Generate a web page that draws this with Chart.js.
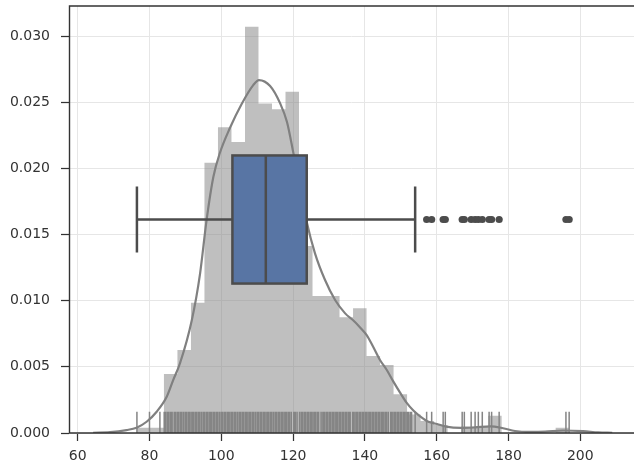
<!DOCTYPE html>
<html>
<head>
<meta charset="utf-8">
<script src="https://cdn.jsdelivr.net/npm/chart.js@4.4.1/dist/chart.umd.min.js"></script>
<style>
  html, body { margin: 0; padding: 0; background: #fff; }
  #wrap { width: 634px; height: 473px; }
</style>
</head>
<body>
<div id="wrap"><canvas id="myChart" width="634" height="473"></canvas></div>
<script>
// histogram: 32 equal bins, density values
const binStart = 76.5;
const binWidth = 3.7625;
const histDensity = [
  0.0004, 0.0004, 0.00446, 0.00627, 0.00985, 0.02043, 0.0231, 0.022,
  0.0307, 0.02491, 0.02446, 0.02579, 0.01413, 0.01035, 0.01035, 0.00874,
  0.00942, 0.00582, 0.00514, 0.00292, 0.0014, 0.0009, 0.0006, 0,
  0.0005, 0.0005, 0.0013, 0, 0, 0, 0, 0.0004
];

// kde curve
const kdeX = [
  64.3, 69.0, 73.6, 76.4, 79.2, 82.0, 84.8, 86.6, 88.5, 91.8, 94.1, 95.9,
  97.8, 99.6, 102.4, 105.6, 108.9, 110.5, 113.6, 116.4, 118.3, 120.1, 122.0,
  123.8, 126.1, 128.9, 131.7, 134.5, 136.8, 138.6, 140.5, 142.3, 144.2, 146.1,
  147.9, 149.8, 151.6, 153.5, 155.3, 157.7, 160.1, 162.6, 166.8, 170.7, 174.9,
  178.5, 181.8, 186.0, 190.2, 195.2, 200.8, 205.0, 208.9
];
const kdeY = [
  0.00002, 0.00006, 0.00022, 0.0004, 0.00085, 0.00161, 0.00274, 0.004, 0.00527, 0.00854, 0.01207, 0.01609,
  0.01937, 0.02116, 0.02305, 0.02483, 0.02629, 0.02667, 0.02622, 0.02491, 0.0235, 0.02113, 0.0185,
  0.01594, 0.01358, 0.01156, 0.01005, 0.00904, 0.0085, 0.008, 0.0074, 0.00652, 0.00552, 0.00476,
  0.0039, 0.00305, 0.0023, 0.0017, 0.00128, 0.00085, 0.00068, 0.00048, 0.00038, 0.00042, 0.0005,
  0.00036, 0.00015, 0.00008, 0.0001, 0.00019, 0.00014, 0.00005, 0.00002
];

// rug (observations)
const rugValues = [
  76.5, 80.0, 82.9,
  84.1, 84.5, 85.0, 85.4, 85.9, 86.3, 86.9, 87.2, 87.7, 88.1, 88.6, 89.0, 89.5, 90.0,
  90.4, 90.9, 91.3, 91.8, 92.2, 92.7, 93.1, 93.6, 94.0, 94.5, 95.0, 95.4, 95.9, 96.3,
  96.8, 97.2, 97.7, 98.1, 98.6, 99.0, 99.5, 100.0, 100.4, 100.9, 101.3, 101.8, 102.2,
  102.7, 103.1, 103.6, 104.0, 104.5, 105.0, 105.4, 105.9, 106.3, 106.8, 107.2, 107.7,
  108.1, 108.6, 109.0, 109.5, 110.0, 110.4, 110.9, 111.3, 111.8, 112.2, 112.7, 113.1,
  113.6, 114.0, 114.5, 115.0, 115.4, 115.9, 116.3, 116.8, 117.2, 117.7, 118.1, 118.6,
  119.0, 119.5, 120.2, 120.6, 121.1, 121.8, 122.3, 122.6, 123.1, 123.5, 124.0, 124.4,
  124.9, 125.3, 125.8, 126.2, 126.7, 127.1, 127.8, 128.3, 128.7, 129.2, 129.6, 130.1,
  130.5, 131.0, 131.4, 131.9, 132.3, 132.8, 133.2, 133.7, 134.1, 134.6, 135.0, 135.5,
  135.9, 136.6, 137.0, 137.5, 137.9, 138.4, 138.8, 139.3, 139.7, 140.2, 140.6, 141.1,
  141.5, 142.0, 142.4, 142.9, 143.3, 143.8, 144.2, 144.7, 145.1, 145.6, 146.0, 146.5,
  147.2, 147.6, 148.1, 148.5, 149.0, 149.4, 149.9, 150.3, 150.8, 151.2, 151.7, 152.1,
  152.6, 153.0, 154.0,
  157.2, 158.6, 161.8, 162.4, 167.1, 167.7, 169.6, 170.7, 171.6, 172.7, 174.6, 175.3,
  177.4, 196.0, 196.9
];

// box plot: whisker low, q1, median, q3, whisker high
const boxStats = [76.5, 103.1, 112.4, 123.8, 154.0];
const outliers = [157.2, 158.6, 161.8, 162.4, 167.1, 167.7, 169.6, 170.7, 171.6, 172.7, 174.6, 175.3, 177.4, 196.0, 196.9];

const xTicks = [60, 80, 100, 120, 140, 160, 180, 200];
const yTicks = [0, 0.005, 0.01, 0.015, 0.02, 0.025, 0.03];

const INK = '#333333';
const BOX_LINE = '#4c4c4c';

const histPoints = histDensity.map((d, i) => ({ x: binStart + i * binWidth, y: d }));
histPoints.push({ x: binStart + histDensity.length * binWidth, y: 0 });

// no extra room for edge labels, the plot area is fixed by hand
const noPad = s => { s.paddingTop = 0; s.paddingBottom = 0; s.paddingLeft = 0; s.paddingRight = 0; };

// rug lines go right after the histogram fill, below the kde
const rugPlugin = {
  id: 'rug',
  afterDatasetDraw(chart, args) {
    if (args.index !== 2) return;
    const { ctx, chartArea } = chart;
    const xs = chart.scales.x;
    const h = (chartArea.bottom - chartArea.top) * 0.05;
    ctx.save();
    ctx.strokeStyle = '#858585';
    ctx.lineWidth = 1.5;
    ctx.beginPath();
    rugValues.forEach(v => {
      const px = xs.getPixelForValue(v);
      ctx.moveTo(px, chartArea.bottom);
      ctx.lineTo(px, chartArea.bottom - h);
    });
    ctx.stroke();
    ctx.restore();
  }
};

const boxPlugin = {
  id: 'box',
  afterDatasetsDraw(chart) {
    const { ctx } = chart;
    const xs = chart.scales.x, yb = chart.scales.yBox;
    const [lo, q1, med, q3, hi] = boxStats.map(v => xs.getPixelForValue(v));
    const yc = yb.getPixelForValue(0);
    const bTop = yb.getPixelForValue(0.3), bBot = yb.getPixelForValue(-0.3);
    const cTop = yb.getPixelForValue(0.155), cBot = yb.getPixelForValue(-0.155);
    ctx.save();
    ctx.strokeStyle = BOX_LINE;
    ctx.lineWidth = 2.5;
    ctx.beginPath();
    ctx.moveTo(lo, yc); ctx.lineTo(q1, yc);
    ctx.moveTo(q3, yc); ctx.lineTo(hi, yc);
    ctx.moveTo(lo, cTop); ctx.lineTo(lo, cBot);
    ctx.moveTo(hi, cTop); ctx.lineTo(hi, cBot);
    ctx.stroke();
    ctx.fillStyle = '#5875a4';
    ctx.fillRect(q1, bTop, q3 - q1, bBot - bTop);
    ctx.strokeRect(q1, bTop, q3 - q1, bBot - bTop);
    ctx.beginPath();
    ctx.moveTo(med, bTop); ctx.lineTo(med, bBot);
    ctx.stroke();
    ctx.restore();
  }
};

const framePlugin = {
  id: 'frame',
  afterDraw(chart) {
    const { ctx, chartArea: a } = chart;
    ctx.save();
    ctx.strokeStyle = INK;
    ctx.lineWidth = 1.4;
    ctx.beginPath();
    ctx.moveTo(a.right, a.top); ctx.lineTo(a.left + 0.5, a.top);
    ctx.lineTo(a.left + 0.5, a.bottom); ctx.lineTo(a.right, a.bottom);
    ctx.stroke();
    ctx.restore();
  }
};

Chart.defaults.font.family = "'DejaVu Sans', sans-serif";
Chart.defaults.font.size = 14;
Chart.defaults.color = INK;

const ctx = document.getElementById('myChart').getContext('2d');
new Chart(ctx, {
  type: 'line',
  data: {
    datasets: [
      {
        type: 'scatter',
        data: outliers.map(v => ({ x: v, y: 0 })),
        yAxisID: 'yBox',
        backgroundColor: BOX_LINE,
        borderWidth: 0,
        pointRadius: 3.6,
        order: 0
      },
      {
        data: kdeX.map((x, i) => ({ x, y: kdeY[i] })),
        borderColor: '#808080',
        borderWidth: 2.2,
        pointRadius: 0,
        cubicInterpolationMode: 'monotone',
        fill: false,
        order: 1
      },
      {
        data: histPoints,
        stepped: true,
        borderWidth: 0,
        borderColor: 'rgba(0,0,0,0)',
        backgroundColor: 'rgba(128,128,128,0.5)',
        pointRadius: 0,
        fill: 'origin',
        order: 2
      }
    ]
  },
  options: {
    responsive: false,
    animation: false,
    devicePixelRatio: 1,
    layout: { autoPadding: false, padding: { top: 6, left: 0, right: 0, bottom: 0 } },
    plugins: { legend: { display: false }, tooltip: { enabled: false } },
    scales: {
      x: {
        type: 'linear',
        min: 57.58,
        max: 214.96,
        afterBuildTicks: s => { s.ticks = xTicks.map(v => ({ value: v })); },
        afterFit: s => { s.height = 40; noPad(s); },
        grid: { color: '#e6e6e6', lineWidth: 1, tickColor: INK, tickLength: 8, tickWidth: 1.25 },
        border: { display: false },
        ticks: { padding: 7, maxRotation: 0, autoSkip: false }
      },
      y: {
        min: 0,
        max: 0.03227,
        afterBuildTicks: s => { s.ticks = yTicks.map(v => ({ value: v })); },
        afterFit: s => { s.width = 69; noPad(s); },
        grid: { color: '#e6e6e6', lineWidth: 1, tickColor: INK, tickLength: 8, tickWidth: 1.25 },
        border: { display: false },
        ticks: { padding: 11, callback: v => v.toFixed(3) }
      },
      yBox: { type: 'linear', display: false, min: -1, max: 1 }
    }
  },
  plugins: [rugPlugin, boxPlugin, framePlugin]
});
</script>
</body>
</html>
